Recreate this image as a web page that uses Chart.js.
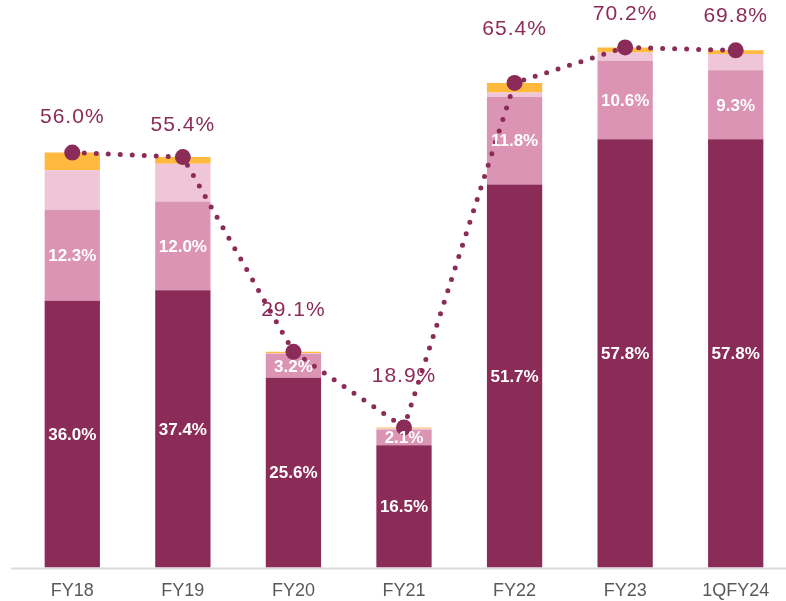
<!DOCTYPE html>
<html>
<head>
<meta charset="utf-8">
<script src="https://cdn.jsdelivr.net/npm/chart.js@4.4.0/dist/chart.umd.min.js"></script>
<style>
  body { margin: 0; background: #fff; overflow: hidden; }
  #wrap { width: 786px; height: 601px; overflow: hidden; }
</style>
</head>
<body>
<div id="wrap"><canvas id="mixChart" width="791" height="615"></canvas></div>
<script>
const categories = ['FY18', 'FY19', 'FY20', 'FY21', 'FY22', 'FY23', '1QFY24'];
const coreShare = [36.0, 37.4, 25.6, 16.5, 51.7, 57.8, 57.8];
const secondShare = [12.3, 12.0, 3.2, 2.1, 11.8, 10.6, 9.3];
const thirdShare = [5.3, 5.1, 0.15, 0.15, 0.6, 1.1, 2.2];
const fourthShare = [2.4, 0.9, 0.15, 0.15, 1.3, 0.7, 0.5];
const totalShare = [56.0, 55.4, 29.1, 18.9, 65.4, 70.2, 69.8];

const maroon = '#8B2B57';
// how far each total label sits above its dot
const totalLift = [35, 32, 42, 51, 54, 33, 34];

const labelPlugin = {
    id: 'labelPlugin',
    afterDatasetsDraw(chart) {
        const ctx = chart.ctx;
        ctx.save();
        ctx.textAlign = 'center';
        ctx.textBaseline = 'middle';

        ctx.fillStyle = '#fff';
        ctx.font = 'bold 17px "Liberation Sans", Arial, sans-serif';
        [0, 1].forEach(di => {
            const meta = chart.getDatasetMeta(di);
            meta.data.forEach((bar, i) => {
                const v = chart.data.datasets[di].data[i];
                ctx.fillText(v.toFixed(1) + '%', bar.x, (bar.y + bar.base) / 2 + 1);
            });
        });

        ctx.fillStyle = maroon;
        ctx.font = '21px "Liberation Sans", Arial, sans-serif';
        ctx.letterSpacing = '1px';
        const lineMeta = chart.getDatasetMeta(4);
        lineMeta.data.forEach((pt, i) => {
            ctx.fillText(totalShare[i].toFixed(1) + '%', pt.x, pt.y - totalLift[i]);
        });
        ctx.restore();
    }
};

// grey base line runs a bit left of the first bar
const baseLine = {
    id: 'baseLine',
    beforeDatasetsDraw(chart) {
        const { ctx, chartArea } = chart;
        ctx.save();
        ctx.strokeStyle = '#D9D9D9';
        ctx.lineWidth = 2;
        ctx.beginPath();
        ctx.moveTo(11, chartArea.bottom + 1);
        ctx.lineTo(chart.width, chartArea.bottom + 1);
        ctx.stroke();
        ctx.restore();
    }
};

const ctx = document.getElementById('mixChart').getContext('2d');

new Chart(ctx, {
    type: 'bar',
    data: {
        labels: categories,
        datasets: [
            { data: coreShare, backgroundColor: maroon, stack: 'mix', order: 1 },
            { data: secondShare, backgroundColor: '#DB94B3', stack: 'mix', order: 1 },
            { data: thirdShare, backgroundColor: '#EFC6D8', stack: 'mix', order: 1 },
            { data: fourthShare, backgroundColor: '#FFB93F', stack: 'mix', order: 1 },
            {
                type: 'line',
                data: totalShare,
                stack: 'total',
                order: 0,
                borderColor: maroon,
                borderWidth: 5,
                borderDash: [0, 12],
                borderCapStyle: 'round',
                tension: 0,
                pointRadius: 8,
                pointBorderWidth: 0,
                pointBackgroundColor: maroon
            }
        ]
    },
    options: {
        responsive: false,
        animation: false,
        layout: { autoPadding: false, padding: { left: 17, right: 0, top: 0, bottom: 0 } },
        datasets: {
            bar: { barPercentage: 1.0, categoryPercentage: 0.5 }
        },
        plugins: {
            legend: { display: false },
            tooltip: { enabled: false }
        },
        scales: {
            x: {
                stacked: true,
                grid: { display: false, drawTicks: false },
                border: { display: false },
                ticks: {
                    color: '#595959',
                    padding: 13,
                    font: { family: '"Liberation Sans", Arial, sans-serif', size: 18 }
                }
            },
            y: {
                stacked: true,
                display: false,
                min: 0,
                max: 76.6
            }
        }
    },
    plugins: [baseLine, labelPlugin]
});
</script>
</body>
</html>
